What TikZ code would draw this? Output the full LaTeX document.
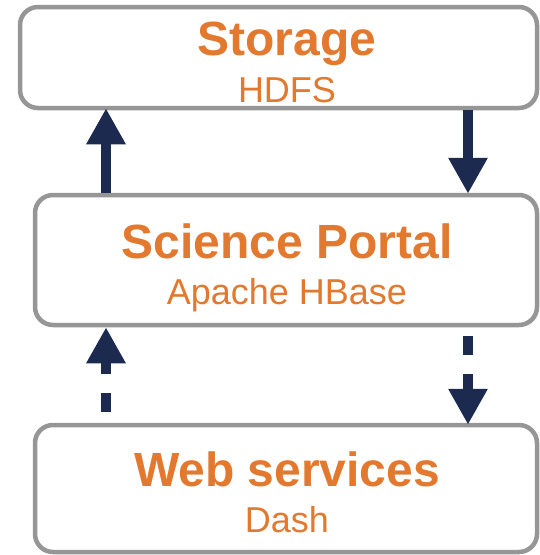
\documentclass[tikz,border=0pt]{standalone}
\usepackage{fontspec}
\setmainfont{Liberation Sans}
\usetikzlibrary{arrows.meta}
\definecolor{boxgray}{HTML}{969696}
\definecolor{txtorange}{HTML}{E2792F}
\definecolor{navy}{HTML}{1B2A4E}
\tikzset{
  layerbox/.style={draw=boxgray, line width=4.5pt, rounded corners=18pt, fill=white, inner sep=0pt},
  titletxt/.style={text=txtorange, anchor=base, inner sep=0pt, font=\bfseries\fontsize{48}{48}\selectfont},
  subtxt/.style={text=txtorange, anchor=base, inner sep=0pt, font=\fontsize{36}{36}\selectfont},
  flow/.style={draw=navy, line width=10pt, -{Triangle[width=37pt,length=36pt]}},
  dflow/.style={flow, dash pattern=on 19pt off 19pt}
}
\begin{document}
\begin{tikzpicture}[x=1pt,y=-1pt]
\useasboundingbox (0,0) rectangle (540,555);
\node[layerbox, minimum width=517pt, minimum height=101pt] (top) at (278.5,57.5) {};
\node[layerbox, minimum width=502pt, minimum height=130pt] (mid) at (286,260) {};
\node[layerbox, minimum width=502pt, minimum height=127pt] (bot) at (286,488.5) {};
\node[titletxt] (t1) at (287,55) {Storage};
\node[subtxt] (s1) at (287,102) {HDFS};
\node[titletxt] (t2) at (287,258) {Science Portal};
\node[subtxt] (s2) at (287,304) {Apache HBase};
\node[titletxt] (t3) at (287,486) {Web services};
\node[subtxt] (s3) at (287,532) {Dash};
\coordinate (lx) at (106,0);
\coordinate (rx) at (468,0);
\draw[flow] (mid.north -| lx) -- ([yshift=2pt]top.south -| lx);
\draw[flow] (top.south -| rx) -- ([yshift=-1pt]mid.north -| rx);
\draw[dflow, shorten <=11pt] (bot.north -| lx) -- (mid.south -| lx);
\draw[dflow, shorten <=9pt] (mid.south -| rx) -- ([yshift=-2pt]bot.north -| rx);
\end{tikzpicture}
\end{document}
